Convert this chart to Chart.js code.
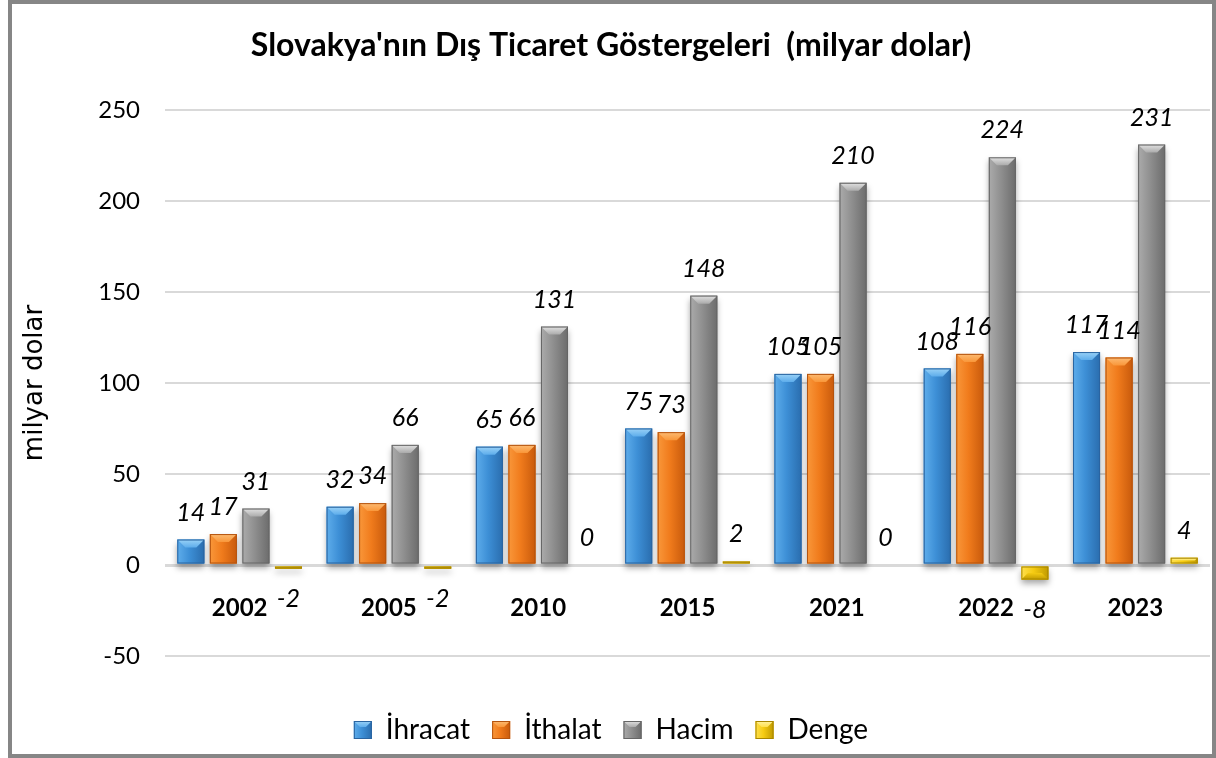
<!DOCTYPE html>
<html><head><meta charset="utf-8">
<script src="https://cdn.jsdelivr.net/npm/chart.js@4.4.1/dist/chart.umd.min.js"></script>
<style>html,body{margin:0;padding:0;background:#fff}#wrap{position:relative;width:1216px;height:758px}</style>
</head><body><div id="wrap"><canvas id="c" width="1216" height="758"></canvas></div>
<script>
const categories = ['2002','2005','2010','2015','2021','2022','2023'];
const ihracat = [14, 32, 65, 75, 105, 108, 117];
const ithalat = [17, 34, 66, 73, 105, 116, 114];
const hacim   = [31, 66, 131, 148, 210, 224, 231];
const denge   = [-2, -2, 0, 2, 0, -8, 4];
const seriesNames = ['İhracat', 'İthalat', 'Hacim', 'Denge'];
const yMin = -50, yMax = 250, yStep = 50;
const titleText = "Slovakya'nın Dış Ticaret Göstergeleri  (milyar dolar)";
const yTitle = 'milyar dolar';

const palettes = [
  {base:'#3D8FD6', light:'#5EADEB', dark:'#2A6DAE', hi:'#9AD2F7', edge:'#2A64A0'},
  {base:'#F07B1C', light:'#F9973A', dark:'#C85A0C', hi:'#FDBB73', edge:'#B4540F'},
  {base:'#8F8F8F', light:'#ABABAB', dark:'#6C6C6C', hi:'#E2E2E2', edge:'#666666'},
  {base:'#F5CB12', light:'#FFE04D', dark:'#C09A00', hi:'#FFF3A0', edge:'#A88600'}
];

function drawBevel(ctx, l, t, r, b, p, down) {
  const w = r - l, h = b - t;
  if (w <= 0 || h <= 0.5) return;
  const d = Math.min(8, w / 3, h / 2);
  ctx.save();
  const g = ctx.createLinearGradient(l, 0, r, 0);
  g.addColorStop(0, p.light); g.addColorStop(0.45, p.base); g.addColorStop(1, p.dark);
  ctx.fillStyle = g; ctx.fillRect(l, t, w, h);
  const yEdge = down ? b : t, yIn = down ? b - d : t + d;
  const gb = ctx.createLinearGradient(0, yEdge, 0, yIn);
  if (down) { gb.addColorStop(0, p.dark); gb.addColorStop(1, p.base); }
  else { gb.addColorStop(0, p.hi); gb.addColorStop(1, p.light); }
  ctx.fillStyle = gb;
  ctx.beginPath(); ctx.moveTo(l, yEdge); ctx.lineTo(r, yEdge); ctx.lineTo(r - d, yIn); ctx.lineTo(l + d, yIn); ctx.closePath(); ctx.fill();
  ctx.strokeStyle = p.edge; ctx.lineWidth = 1;
  ctx.strokeRect(l + 0.5, t + 0.5, w - 1, h - 1);
  ctx.restore();
}

const framePlugin = {
  id: 'frame',
  beforeDraw(chart) {
    const ctx = chart.ctx; ctx.save(); ctx.fillStyle = '#fff'; ctx.fillRect(0, 0, chart.width, chart.height); ctx.restore();
  },
  beforeDatasetsDraw(chart) {
    const ctx = chart.ctx; ctx.save();
    ctx.shadowColor = 'rgba(0,0,0,0.35)'; ctx.shadowBlur = 6; ctx.shadowOffsetY = 4;
  },
  afterDatasetsDraw(chart) {
    const ctx = chart.ctx; ctx.restore();
    chart.data.datasets.forEach((ds, i) => {
      const meta = chart.getDatasetMeta(i);
      meta.data.forEach((bar, j) => {
        const pr = bar.getProps(['x', 'y', 'base', 'width'], true);
        const l = pr.x - pr.width / 2, r = pr.x + pr.width / 2;
        const t = Math.min(pr.y, pr.base), b = Math.max(pr.y, pr.base);
        drawBevel(ctx, l, t, r, b, palettes[i], ds.data[j] < 0);
      });
    });
    ctx.save();
    ctx.font = 'italic 25px Lato';
    ctx.fillStyle = '#000'; ctx.textAlign = 'center'; ctx.textBaseline = 'middle';
    chart.data.datasets.forEach((ds, i) => {
      const meta = chart.getDatasetMeta(i);
      meta.data.forEach((bar, j) => {
        const v = ds.data[j];
        const pr = bar.getProps(['x', 'y'], true);
        const y = v < 0 ? pr.y + 30 : pr.y - 27;
        ctx.fillText(String(v), pr.x, y);
      });
    });
    ctx.restore();
  },
  afterDraw(chart) {
    const ctx = chart.ctx;
    const lg = chart.legend;
    if (lg && lg.legendHitBoxes) {
      const o = lg.options.labels;
      const itemH = Math.max(o.font.size, o.boxHeight);
      lg.legendHitBoxes.forEach((hb, i) => {
        const t = hb.top + (itemH - o.boxHeight) / 2;
        drawBevel(ctx, hb.left, t, hb.left + o.boxWidth, t + o.boxHeight, palettes[i], false);
      });
    }
    ctx.save(); ctx.strokeStyle = '#868686'; ctx.lineWidth = 4;
    ctx.strokeRect(10, 2, chart.width - 12, chart.height - 4);
    ctx.restore();
  }
};

const seriesData = [ihracat, ithalat, hacim, denge];
const datasets = seriesNames.map((n, i) => ({
  label: n, data: seriesData[i], xAxisID: 'x', yAxisID: 'y',
  backgroundColor: palettes[i].base, borderWidth: 0,
  categoryPercentage: 0.872, barPercentage: 0.83
}));

new Chart(document.getElementById('c'), {
  type: 'bar',
  data: { labels: categories, datasets },
  options: {
    responsive: false, animation: false,
    layout: { padding: { left: 12, right: 6, top: 0, bottom: 4 } },
    plugins: {
      tooltip: { enabled: false },
      title: { display: true, text: titleText, color: '#000',
        font: { family: 'Lato', size: 32, weight: 'bold' }, padding: { top: 26, bottom: 45.6 } },
      legend: { position: 'bottom',
        labels: { color: '#000', font: { family: 'Lato', size: 28 }, boxWidth: 18, boxHeight: 18, padding: 22 } }
    },
    scales: {
      x: { type: 'category', position: { y: 0 }, offset: true,
        grid: { display: false }, border: { display: false },
        ticks: { color: '#000', font: { family: 'Lato', size: 24, weight: 'bold' }, padding: 21 } },
      x2: { type: 'category', position: 'bottom', display: true,
        grid: { display: false }, border: { display: false }, ticks: { display: false },
        afterFit(s) { s.height = 38; } },
      y: { min: yMin, max: yMax,
        ticks: { stepSize: yStep, color: '#000', font: { family: 'Lato', size: 24 }, padding: 25 },
        grid: { color: '#d9d9d9', lineWidth: c => c.tick && c.tick.value === 0 ? 3 : 2, drawTicks: false },
        border: { display: false },
        title: { display: true, text: yTitle, color: '#000', font: { family: 'DejaVu Sans', size: 26 }, padding: { top: 8, bottom: 0 } },
        afterFit(s) { s.width = 153; } }
    }
  },
  plugins: [framePlugin]
});
</script>
</body></html>
